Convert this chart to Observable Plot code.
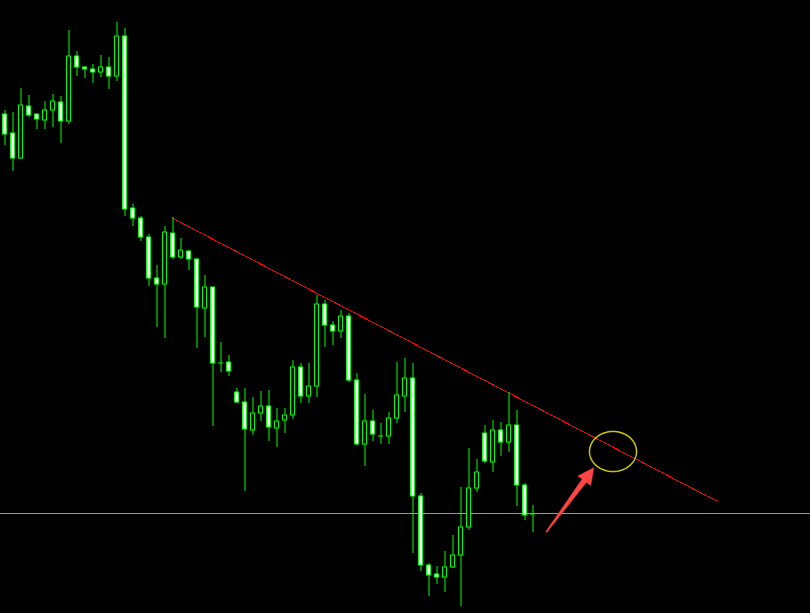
<!DOCTYPE html>
<html>
<head>
<meta charset="utf-8">
<script src="https://cdn.jsdelivr.net/npm/d3@7"></script>
<script src="https://cdn.jsdelivr.net/npm/@observablehq/plot@0.6"></script>
<style>
  html, body { margin: 0; padding: 0; background: #000; overflow: hidden; }
  #chart svg { display: block; }
</style>
</head>
<body>
<div id="chart"></div>
<script>
// Chart units: vertical level (larger = lower on chart, scale is reversed)
const openV  = [114,133,158,106,114,120,110,102,121,56,67,69,72,67,76,36,208,218,237,278,284,233,257,251,259,308,287,362.5,362,392,402,430,413,406,428,420,415,367,396,386,304,325,331,316,380,444,421,435.5,436,418,396,378,496,565,574,577,567,555,527,488,433,462,430,442,425,485,513.5];
const closeV = [134,158,105,115,119,110,101,121,56,67,69,72,67,76,36,209,218,237,278,284,232,257,250,259,307,287,363,362.5,371,402,429,413,406,427,421,415,367,396,386,304,325,331,316,380,444,421,434,435.5,418,395,378,496,565,575,577,567,555,527,488,472,461,430,442,425,485,515,513.5];
const highV  = [110,112,88,95,114,101,94,96,30,51,66,64,55,57,22,28,204,216,234,265,226,217,238,250,258,275,287,342,355,388,388,397,391,390,408,408,360,363,363,295,300,321,310,313,373,394,410,423,412,362,358,363,493,563,566,551,535,487,448,459,425,420,422,392,410,483,505];
const lowV   = [145,171,159,117,129,129,127,143,124,76,78,83,77,89,81,216,226,241,286,327,338,259,259,270,348,337,426,372,376,403,491,435,421,441,447,433,419,403,403,397,347,345,338,382,445,466,441,444,444,423,412,553,571,596,584,592,568,606,530,492,463,472,456,452,506,520,532];

// Annotations (data units: bar index, level)
const trendPts = [{i: 21, v: 218}, {i: 88.9, v: 500.3}];
const supportLevel = [513.3];
const circleCenter = {i: 76, v: 451};
const circleRadiusBars = 2.94, circleRadiusLevel = 20;
const arrowTail = {i: 67.65, v: 531.7};
const arrowTip = {i: 73.6, v: 467.3};

const xDomain = [-0.5625, 100.6875];
const W = 810, H = 613;
const pxPerBar = W / (xDomain[1] - xDomain[0]);

const candles = openV.map((o, i) => ({i, o, c: closeV[i], h: highV[i], l: lowV[i]}));
const bodies = candles.filter(d => d.o !== d.c);
const dojis = candles.filter(d => d.o === d.c);

const ellipse = d3.range(0, 361, 4).map(a => ({
  i: circleCenter.i + circleRadiusBars * Math.cos(a * Math.PI / 180),
  v: circleCenter.v + circleRadiusLevel * Math.sin(a * Math.PI / 180)
}));

// arrow polygon (computed in pixel-equivalent space, converted back to data units)
function arrowPolygon(tail, tip) {
  const tx = tail.i * pxPerBar, ty = tail.v, hx = tip.i * pxPerBar, hy = tip.v;
  const dx = hx - tx, dy = hy - ty, len = Math.hypot(dx, dy);
  const ux = dx / len, uy = dy / len, nx = -uy, ny = ux;
  const headLen = 16, headHalf = 8, shaftHalf = 2.6, tailHalf = 0.6;
  const bx = hx - headLen * ux, by = hy - headLen * uy;
  const pts = [
    [tx - tailHalf * nx, ty - tailHalf * ny],
    [bx - shaftHalf * nx, by - shaftHalf * ny],
    [bx - headHalf * nx, by - headHalf * ny],
    [hx, hy],
    [bx + headHalf * nx, by + headHalf * ny],
    [bx + shaftHalf * nx, by + shaftHalf * ny],
    [tx + tailHalf * nx, ty + tailHalf * ny]
  ];
  return pts.map(([x, y]) => ({i: x / pxPerBar, v: y}));
}
const arrowPts = arrowPolygon(arrowTail, arrowTip);

const green = "#00ff00";

const chart = Plot.plot({
  width: W,
  height: H,
  margin: 0,
  style: {background: "#000"},
  x: {domain: xDomain, axis: null},
  y: {domain: [0, H], reverse: true, axis: null},
  marks: [
    Plot.ruleY(supportLevel, {stroke: "#9a9a9a", strokeWidth: 1, shapeRendering: "crispEdges"}),
    Plot.line(trendPts, {x: "i", y: "v", stroke: "#ff0000", strokeWidth: 1, shapeRendering: "crispEdges"}),
    Plot.ruleX(candles, {x: "i", y1: "h", y2: "l", stroke: green, strokeWidth: 1}),
    Plot.rect(bodies, {
      x1: d => d.i - 0.25, x2: d => d.i + 0.25,
      y1: "o", y2: "c",
      fill: d => d.c > d.o ? "#ffffff" : "#000000",
      stroke: green, strokeWidth: 1
    }),
    Plot.ruleY(dojis, {y: "o", x1: d => d.i - 0.31, x2: d => d.i + 0.31, stroke: green, strokeWidth: 1}),
    Plot.line(ellipse, {x: "i", y: "v", stroke: "#c8c800", strokeWidth: 1.5}),
    Plot.line(arrowPts, {x: "i", y: "v", fill: "#ff4444", stroke: "#ff4444", strokeWidth: 0.5})
  ]
});
document.getElementById("chart").appendChild(chart);
</script>
</body>
</html>
